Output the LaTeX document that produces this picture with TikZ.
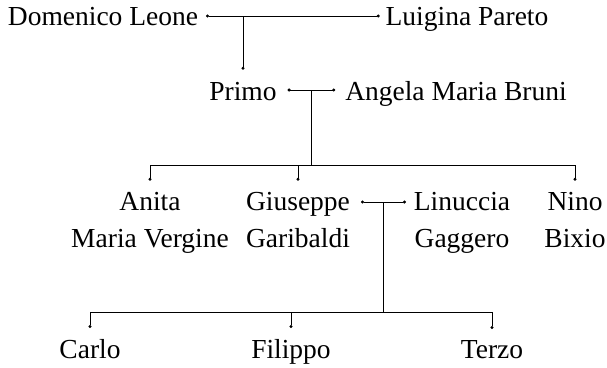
\documentclass[tikz,border=0pt]{standalone}
\usepackage{fontspec}
\setmainfont{Liberation Serif}
\usetikzlibrary{arrows.meta,positioning}
\begin{document}
\begin{tikzpicture}[x=1pt,y=-1pt]
  \tikzset{
    person/.style={inner sep=0pt,outer sep=0pt,anchor=base,align=center,
      font=\fontsize{27.5}{37}\selectfont},
    couple/.style={line width=0.75pt,{Circle[length=3pt]}-{Circle[length=3pt]}},
    kid/.style={line width=0.75pt,-{Circle[length=3pt]}},
    bar/.style={line width=0.75pt},
  }
  \useasboundingbox (0,0) rectangle (607,367);

  %first generation
  \node[person] (dl) at (103,25) {Domenico Leone};
  \node[person] (lp) at (467,25) {Luigina Pareto};
  \draw[couple] ([xshift=8pt,yshift=9pt]dl.base east) -- ([xshift=-6pt,yshift=9pt]lp.base west) coordinate[pos=0] (c1);

  %second generation
  \node[person] (pr) at (243,100) {Primo};
  \node[person] (amb) at (456,100) {Angela Maria Bruni};
  \draw[kid] (c1 -| pr) -- ([yshift=12pt]pr.north);
  \draw[couple] ([xshift=11pt,yshift=10pt]pr.base east) -- coordinate[pos=.5] (c2) ([xshift=-10pt,yshift=10pt]amb.base west);

  %third generation (base is the second line)
  \node[person] (an) at (150,247) {Anita\\Maria Vergine};
  \node[person] (gi) at (298,247) {Giuseppe\\Garibaldi};
  \node[person] (li) at (462,247) {Linuccia\\Gaggero};
  \node[person] (ni) at (575,247) {Nino\\Bixio};
  \coordinate (g3) at (0,165);
  \draw[bar] (c2) -- (c2 |- g3);
  \draw[bar] (g3 -| an) -- (g3 -| ni);
  \foreach \k in {an,gi,ni}
    \draw[kid] (g3 -| \k) -- ([yshift=11pt]\k.north);
  \draw[couple] ([xshift=11pt,yshift=45pt]gi.base east) -- coordinate[pos=.5] (c3) ([xshift=-8pt,yshift=45pt]li.base west);

  %fourth generation
  \node[person] (ca) at (90,358) {Carlo};
  \node[person] (fi) at (291,358) {Filippo};
  \node[person] (te) at (492,358) {Terzo};
  \coordinate (g4) at (0,312);
  \draw[bar] (c3) -- (c3 |- g4);
  \draw[bar] (g4 -| ca) -- (g4 -| te);
  \foreach \k in {ca,fi,te}
    \draw[kid] (g4 -| \k) -- ([yshift=11pt]\k.north);
\end{tikzpicture}
\end{document}
